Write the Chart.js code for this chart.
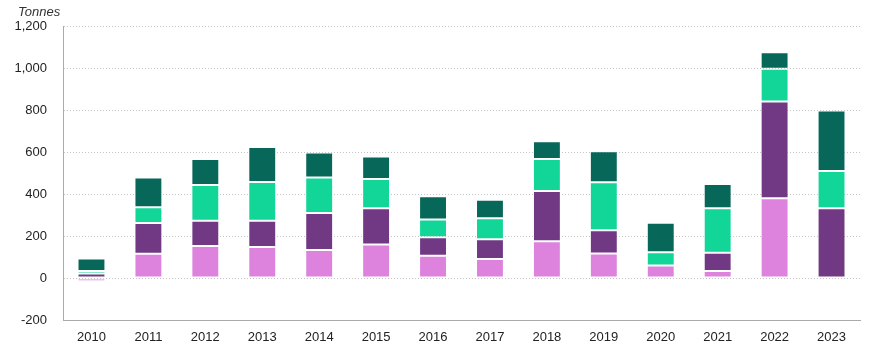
<!DOCTYPE html>
<html>
<head>
<meta charset="utf-8">
<script src="https://cdn.jsdelivr.net/npm/chart.js@4"></script>
<style>
  body { margin: 0; background: #fff; }
  #wrap { position: relative; width: 872px; height: 353px; }
  #unit { position: absolute; left: 18px; top: 4px; font: italic 13px "Liberation Sans", Arial, sans-serif; color: #333; }
</style>
</head>
<body>
<div id="wrap">
  <canvas id="chart" width="872" height="353"></canvas>
  <div id="unit">Tonnes</div>
</div>
<script>
const years = ['2010', '2011', '2012', '2013', '2014', '2015', '2016', '2017', '2018', '2019', '2020', '2021', '2022', '2023'];
const pinkVals = [-15, 116, 152, 148, 133, 159, 106, 90, 175, 117, 60, 33, 380, 0];
const purpleVals = [22, 146, 121, 125, 177, 173, 88, 94, 239, 110, -10, 87, 460, 332];
const lightGreenVals = [11, 75, 170, 184, 168, 139, 85, 100, 153, 229, 63, 212, 157, 178];
const darkGreenVals = [60, 141, 124, 167, 120, 107, 110, 89, 84, 147, 140, 116, 78, 288];

const font = { family: '"Liberation Sans", Arial, sans-serif', size: 13 };

function series(data, color) {
    return {
        data: data,
        backgroundColor: color,
        borderColor: 'rgba(255,255,255,0.25)',
        borderWidth: 1,
        borderSkipped: false,
        barPercentage: 0.49,
        categoryPercentage: 1
    };
}

new Chart(document.getElementById('chart').getContext('2d'), {
    type: 'bar',
    data: {
        labels: years,
        datasets: [
            series(pinkVals, '#DD83DD'),
            series(purpleVals, '#713884'),
            series(lightGreenVals, '#12D598'),
            series(darkGreenVals, '#076759')
        ]
    },
    options: {
        responsive: false,
        animation: false,
        layout: { padding: { top: 26, right: 12, left: 0, bottom: 0 } },
        plugins: { legend: { display: false }, tooltip: { enabled: false } },
        scales: {
            x: {
                stacked: true,
                grid: { display: false, drawTicks: false },
                border: { display: true, color: '#aaa', width: 1 },
                ticks: { color: '#222', font: font, padding: 10 },
                afterFit: s => { s.height = 33; }
            },
            y: {
                stacked: true,
                min: -200,
                max: 1200,
                grid: { color: '#c4c4c4', drawTicks: false },
                border: { display: true, color: '#aaa', width: 1, dash: [1, 2] },
                ticks: { stepSize: 200, color: '#222', font: font, padding: 16 },
                afterFit: s => { s.width = 63; }
            }
        }
    }
});
</script>
</body>
</html>
